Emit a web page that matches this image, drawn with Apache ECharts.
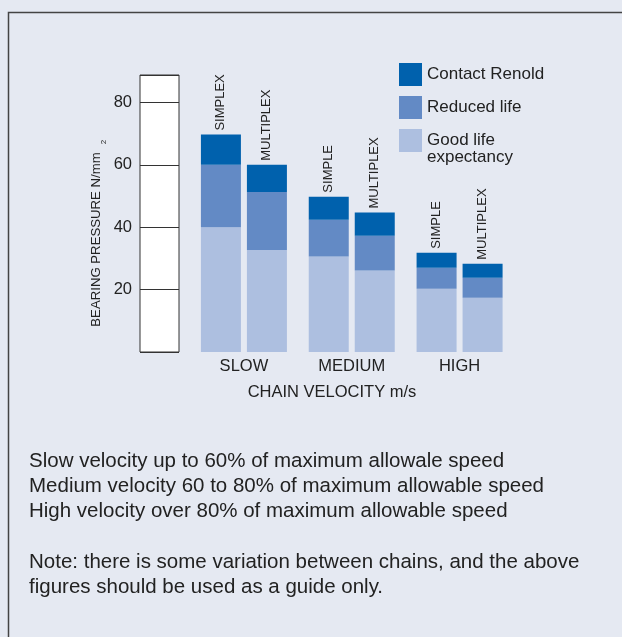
<!DOCTYPE html>
<html><head><meta charset="utf-8">
<script src="https://cdn.jsdelivr.net/npm/echarts@6/dist/echarts.min.js"></script>
<style>html,body{margin:0;padding:0;background:#e5e9f2}#c{width:622px;height:637px}</style>
</head><body><div id="c"></div>
<script>
const categories = ['SLOW', 'MEDIUM', 'HIGH'];
const simplexLabels = ['SIMPLEX', 'SIMPLE', 'SIMPLE'];
const multiplexLabels = ['MULTIPLEX', 'MULTIPLEX', 'MULTIPLEX'];
const simplexGood = [40, 30.6, 20.3];
const simplexReduced = [20, 11.8, 6.7];
const simplexContact = [9.7, 7.4, 4.8];
const multiplexGood = [32.7, 26.1, 17.4];
const multiplexReduced = [18.6, 11.2, 6.4];
const multiplexContact = [8.7, 7.4, 4.5];
const yTicks = [20, 40, 60, 80];
const legendNames = ['Contact Renold', 'Reduced life', 'Good life expectancy'];
const xAxisTitle = 'CHAIN VELOCITY m/s';
const yAxisTitle = 'BEARING PRESSURE N/mm';
const notes = [
  'Slow velocity up to 60% of maximum allowale speed',
  'Medium velocity 60 to 80% of maximum allowable speed',
  'High velocity over 80% of maximum allowable speed',
  '',
  'Note: there is some variation between chains, and the above',
  'figures should be used as a guide only.'
];

const FONT = '"Liberation Sans", Arial, Helvetica, sans-serif';
const TXT = '#222';
const colors = { 'Contact Renold': '#0061ad', 'Reduced life': '#638ac5', 'Good life expectancy': '#adbfe0' };
const YMAX = 88.8;

function bar(name, data, stack, labels) {
  const s = {
    type: 'bar', name: name, stack: stack, data: data,
    xAxisIndex: 1, yAxisIndex: 1,
    barWidth: 40, barGap: '15%',
    itemStyle: { color: colors[name] },
    emphasis: { disabled: true }
  };
  if (labels) {
    s.label = {
      show: true, position: 'top', rotate: 90, align: 'left', verticalAlign: 'middle',
      distance: 4, fontFamily: FONT, fontSize: 13, color: TXT,
      formatter: p => labels[p.dataIndex]
    };
  }
  return s;
}

const graphics = [
  { type: 'rect', shape: { x: 8.5, y: 12.5, width: 800, height: 800 }, style: { fill: 'none', stroke: '#444', lineWidth: 1.5 }, silent: true },
  { type: 'text', x: 332, y: 392, style: { text: xAxisTitle, font: '16.5px ' + FONT, fill: TXT, textAlign: 'center', textVerticalAlign: 'middle' } },
  { type: 'text', x: 96, y: 239.5, rotation: Math.PI / 2, style: { text: yAxisTitle, font: '13.2px ' + FONT, fill: TXT, textAlign: 'center', textVerticalAlign: 'middle' } },
  { type: 'text', x: 104, y: 142, rotation: Math.PI / 2, style: { text: '2', font: '8px ' + FONT, fill: TXT, textAlign: 'center', textVerticalAlign: 'middle' } }
];
const lineY = [461, 486, 511, 537, 562, 587];
notes.forEach((t, i) => {
  if (t) graphics.push({ type: 'text', x: 29, y: lineY[i], style: { text: t, font: '20.5px ' + FONT, fill: TXT, textAlign: 'left', textVerticalAlign: 'middle' } });
});

const legendBase = {
  orient: 'vertical', left: 399, padding: 0,
  itemWidth: 23, itemHeight: 23, itemGap: 10, icon: 'rect',
  selectedMode: false,
  textStyle: { fontFamily: FONT, fontSize: 17, color: TXT, lineHeight: 17 }
};

const chart = echarts.init(document.getElementById('c'));
chart.setOption({
  backgroundColor: '#e5e9f2',
  animation: false,
  grid: [
    { left: 140, top: 75, width: 39, height: 277, show: true, backgroundColor: '#ffffff', borderColor: '#333', borderWidth: 1 },
    { left: 190, top: 75, width: 323.5, height: 277 }
  ],
  xAxis: [
    { type: 'value', gridIndex: 0, show: false },
    { type: 'category', gridIndex: 1, data: categories,
      axisLine: { show: false }, axisTick: { show: false },
      axisLabel: { margin: 6, fontFamily: FONT, fontSize: 16.5, color: TXT } }
  ],
  yAxis: [
    { type: 'value', gridIndex: 0, min: 0, max: YMAX, interval: 20,
      axisLine: { show: false }, axisTick: { show: false },
      splitLine: { show: true, lineStyle: { color: '#333', width: 1 } },
      axisLabel: { margin: 8, fontFamily: FONT, fontSize: 16.5, color: TXT,
        formatter: v => yTicks.includes(v) ? String(v) : '' } },
    { type: 'value', gridIndex: 1, min: 0, max: YMAX, show: false, splitLine: { show: false } }
  ],
  legend: [
    Object.assign({}, legendBase, { top: 63, data: [legendNames[0], legendNames[1]] }),
    Object.assign({}, legendBase, {
      top: 115,
      data: [legendNames[2]],
      formatter: n => n === 'Good life expectancy' ? '\nGood life\nexpectancy' : n
    })
  ],
  series: [
    bar(legendNames[2], simplexGood, 's'),
    bar(legendNames[1], simplexReduced, 's'),
    bar(legendNames[0], simplexContact, 's', simplexLabels),
    bar(legendNames[2], multiplexGood, 'm'),
    bar(legendNames[1], multiplexReduced, 'm'),
    bar(legendNames[0], multiplexContact, 'm', multiplexLabels)
  ],
  graphic: graphics
});
</script></body></html>
